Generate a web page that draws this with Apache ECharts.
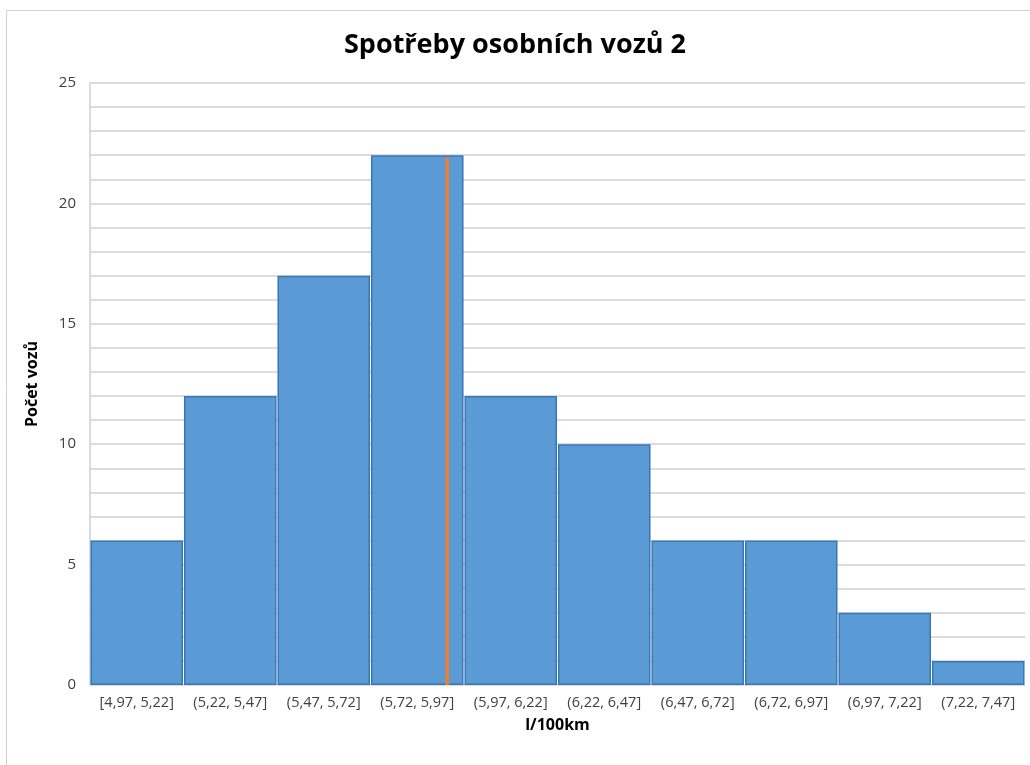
<!DOCTYPE html>
<html>
<head>
<meta charset="utf-8">
<script src="https://cdn.jsdelivr.net/npm/echarts@6/dist/echarts.min.js"></script>
<style>
  html, body { margin: 0; padding: 0; background: #fff; }
  #chart { width: 1030px; height: 765px; }
</style>
</head>
<body>
<div id="chart"></div>
<script>
  // intervaly spotřeby (l/100km) a počty vozů
  var bins = ['[4,97, 5,22]', '(5,22, 5,47]', '(5,47, 5,72]', '(5,72, 5,97]', '(5,97, 6,22]',
              '(6,22, 6,47]', '(6,47, 6,72]', '(6,72, 6,97]', '(6,97, 7,22]', '(7,22, 7,47]']
  var counts = [6, 12, 17, 22, 12, 10, 6, 6, 3, 1]
  // svislá čára (průměr)
  var meanX = 5.925
  var meanTop = 21.9
  var xMin = 4.97, xMax = 7.47

  var chart = echarts.init(document.getElementById('chart'))
  var font = 'Open Sans'

  var option = {
    animation: false,
    title: {
      text: 'Spotřeby osobních vozů 2',
      left: 'center',
      top: 27,
      textStyle: { fontFamily: font, fontSize: 27, fontWeight: 'bold', color: '#000' }
    },
    graphic: [{
      type: 'rect',
      shape: { x: 6.5, y: 10.5, width: 1040, height: 800 },
      style: { fill: 'none', stroke: '#d0d0d0', lineWidth: 1 },
      silent: true
    }],
    grid: { left: 90, right: 5, top: 83, bottom: 80 },
    xAxis: [{
      type: 'category',
      data: bins,
      name: 'l/100km',
      nameLocation: 'middle',
      nameGap: 32,
      nameTextStyle: { fontFamily: font, fontSize: 16, fontWeight: 'bold', color: '#000' },
      axisLine: { show: false },
      axisTick: { show: false },
      axisLabel: { fontFamily: font, fontSize: 14.5, color: '#404040', margin: 10, interval: 0 }
    }, {
      type: 'value',
      min: xMin,
      max: xMax,
      show: false
    }],
    yAxis: {
      type: 'value',
      min: 0,
      max: 25,
      interval: 1,
      name: 'Počet vozů',
      nameLocation: 'middle',
      nameGap: 50,
      nameTextStyle: { fontFamily: font, fontSize: 16, fontWeight: 'bold', color: '#000' },
      axisLine: { show: true, lineStyle: { color: '#d0d0d0', width: 1.5 } },
      axisTick: { show: false },
      axisLabel: {
        fontFamily: font, fontSize: 15, color: '#404040', margin: 14,
        formatter: function (v) { return v % 5 === 0 ? v : '' }
      },
      splitLine: { lineStyle: { color: '#d0d0d0', width: 1.5 } }
    },
    series: [{
      type: 'bar',
      data: counts,
      xAxisIndex: 0,
      barWidth: '99%',
      itemStyle: { color: '#5b9bd5', borderColor: '#3a76b4', borderWidth: 1.5 }
    }, {
      type: 'line',
      xAxisIndex: 1,
      data: [[meanX, 0], [meanX, meanTop]],
      symbol: 'none',
      lineStyle: { color: '#ed7d31', width: 3.5 },
      z: 5
    }]
  }
  chart.setOption(option)
</script>
</body>
</html>
